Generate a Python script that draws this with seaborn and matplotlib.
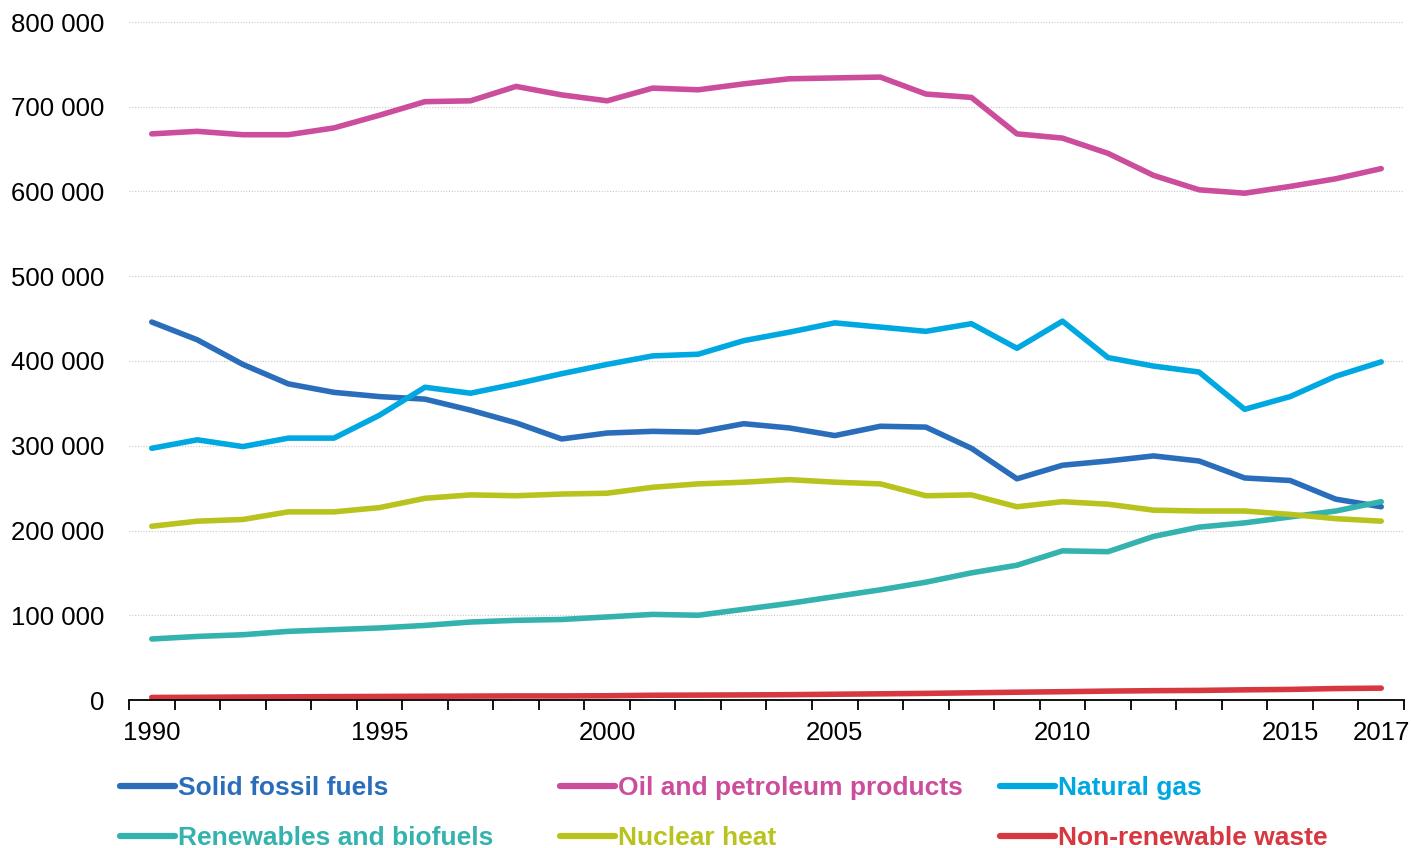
import numpy as np
import pandas as pd
import seaborn as sns
import matplotlib.pyplot as plt
from matplotlib.ticker import FuncFormatter, MultipleLocator, FixedLocator
from matplotlib.lines import Line2D

# 데이터 ==========================================================
years = list(range(1990, 2018))

solid_fossil = [446000, 425000, 396000, 373000, 363000, 358000, 355000, 342000, 327000, 308000,
                315000, 317000, 316000, 326000, 321000, 312000, 323000, 322000, 297000, 261000,
                277000, 282000, 288000, 282000, 262000, 259000, 237000, 228000]
oil_petroleum = [668000, 671000, 667000, 667000, 675000, 690000, 706000, 707000, 724000, 714000,
                 707000, 722000, 720000, 727000, 733000, 734000, 735000, 715000, 711000, 668000,
                 663000, 645000, 619000, 602000, 598000, 606000, 615000, 627000]
natural_gas = [297000, 307000, 299000, 309000, 309000, 336000, 369000, 362000, 373000, 385000,
               396000, 406000, 408000, 424000, 434000, 445000, 440000, 435000, 444000, 415000,
               447000, 404000, 394000, 387000, 343000, 358000, 382000, 399000]
renewables = [72000, 75000, 77000, 81000, 83000, 85000, 88000, 92000, 94000, 95000,
              98000, 101000, 100000, 107000, 114000, 122000, 130000, 139000, 150000, 159000,
              176000, 175000, 193000, 204000, 209000, 216000, 223000, 234000]
nuclear = [205000, 211000, 213000, 222000, 222000, 227000, 238000, 242000, 241000, 243000,
           244000, 251000, 255000, 257000, 260000, 257000, 255000, 241000, 242000, 228000,
           234000, 231000, 224000, 223000, 223000, 219000, 214000, 211000]
waste = [3000, 3200, 3500, 3700, 4000, 4200, 4400, 4600, 4800, 4800,
         5000, 5600, 5800, 6000, 6300, 6800, 7300, 7800, 8500, 9200,
         9800, 10500, 11000, 11300, 12000, 12500, 13500, 14000]

series = ['Solid fossil fuels', 'Oil and petroleum products', 'Natural gas',
          'Renewables and biofuels', 'Nuclear heat', 'Non-renewable waste']
colors = ['#2A6EBB', '#CB4D9B', '#00A8E1', '#33B2AE', '#B9C31E', '#D7373F']
tick_years = [1990, 1995, 2000, 2005, 2010, 2015, 2017]

values = [solid_fossil, oil_petroleum, natural_gas, renewables, nuclear, waste]
df = pd.DataFrame({'year': years * len(series),
                   'series': np.repeat(series, len(years)),
                   'value': np.concatenate(values)})

# 그래프 ==========================================================
sns.set_style('white')
plt.rcParams['font.family'] = ['Liberation Sans', 'DejaVu Sans']
plt.rcParams['axes.unicode_minus'] = False

fig = plt.figure(figsize=(14.11, 8.48), dpi=100)
ax = fig.add_axes([129 / 1411, 1 - 700 / 848, (1404 - 129) / 1411, (700 - 22) / 848])

palette = dict(zip(series, colors))
sns.lineplot(data=df, x='year', y='value', hue='series', hue_order=series,
             palette=palette, linewidth=4, ax=ax, legend=False,
             solid_capstyle='round')

# 축 설정
ax.set_xlim(1989.5, 2017.5)
ax.set_ylim(0, 800000)
ax.yaxis.set_major_locator(MultipleLocator(100000))
ax.yaxis.set_major_formatter(FuncFormatter(lambda v, p: f'{int(v):,}'.replace(',', ' ')))
ax.xaxis.set_major_locator(FixedLocator(tick_years))
ax.xaxis.set_minor_locator(FixedLocator(np.arange(1989.5, 2018, 1)))
ax.tick_params(axis='x', which='major', length=0, pad=15, labelsize=18.5, colors='black')
ax.tick_params(axis='x', which='minor', length=7, width=1.3, direction='out', color='black', bottom=True)
ax.tick_params(axis='y', length=0, pad=18, labelsize=18.5, colors='black')
ax.set_xlabel('')
ax.set_ylabel('')

for s in ['top', 'right', 'left']:
    ax.spines[s].set_visible(False)
ax.spines['bottom'].set_color('black')
ax.spines['bottom'].set_linewidth(1.3)

ax.grid(axis='y', color='#C8C8C8', linestyle=(0, (1, 1.5)), linewidth=0.8)
ax.grid(axis='x', visible=False)
ax.set_axisbelow(True)
for line in ax.get_ygridlines()[:1]:
    line.set_visible(False)

# 범례 (3열, 열마다 따로)
col_x = [120 / 1411, 560 / 1411, 1000 / 1411]
for c in range(3):
    idx = [c, c + 3]
    handles = [Line2D([], [], color=colors[i], linewidth=4.5, solid_capstyle='round') for i in idx]
    labels = [series[i] for i in idx]
    leg = fig.legend(handles, labels, loc='upper left', bbox_to_anchor=(col_x[c], 1 - 776 / 848),
                     frameon=False, handlelength=2.1, handletextpad=0.1, borderpad=0,
                     borderaxespad=0, labelspacing=1.0, labelcolor='linecolor',
                     prop={'size': 19, 'weight': 'bold'})

fig.savefig('out.png', dpi=100)
